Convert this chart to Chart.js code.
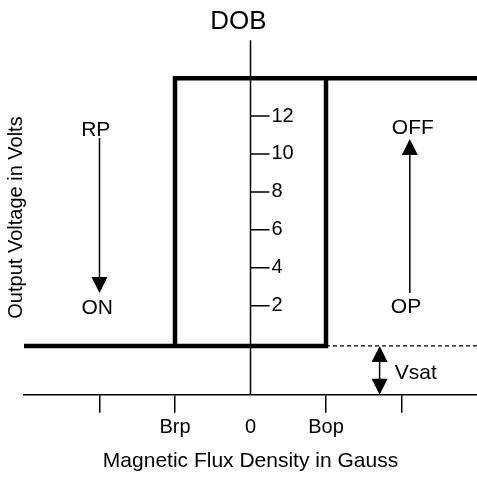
<!DOCTYPE html>
<html>
<head>
<meta charset="utf-8">
<title>DOB</title>
<script src="https://cdn.jsdelivr.net/npm/chart.js@4.4.1/dist/chart.umd.min.js"></script>
<style>
  html, body { margin: 0; padding: 0; background: #fff; }
  #wrap { width: 477px; height: 477px; }
</style>
</head>
<body>
<div id="wrap"><canvas id="chart"></canvas></div>
<script>
// flux axis (x): tick positions and their names
const fluxTicks = [-2, -1, 0, 1, 2];
const fluxLabels = ['', 'Brp', '0', 'Bop', ''];
// voltage scale drawn on the centre axis
const voltTicks = [2, 4, 6, 8, 10, 12];

// hysteresis loop, null breaks the path
const loopX = [-3, -1, -1, 3, null, 1, 1, -1];
const loopY = [-0.12, -0.12, 14, 14, null, 14, -0.12, -0.12];
// Vsat reference level
const dashX = [1, 3];
const dashY = [-0.12, -0.12];

// arrows: x position, tail, tip, double headed or not
const arrowX = [-2, 2.11, 1.71];
const arrowFrom = [10.84, 2.67, -0.12];
const arrowTo = [2.67, 10.79, -2.7];
const arrowBoth = [false, false, true];

// text notes, in data coordinates
const noteText = ['RP', 'ON', 'OFF', 'OP', 'Vsat'];
const noteX = [-2.05, -2.03, 2.15, 2.06, 1.91];
const noteY = [11.26, 1.86, 11.37, 1.94, -1.54];

const FONT = "'Liberation Sans', Arial, sans-serif";
Chart.defaults.font.family = FONT;
Chart.defaults.color = '#000';

function arrowHead(ctx, px, py, dir) {
    // dir = 1 points down, -1 points up
    ctx.beginPath();
    ctx.moveTo(px, py);
    ctx.lineTo(px - 8, py - dir * 16);
    ctx.lineTo(px + 8, py - dir * 16);
    ctx.closePath();
    ctx.fill();
}

const diagram_plugin = {
    id: 'diagramNotes',
    beforeDatasetsDraw: (chart) => {
        const {ctx} = chart;
        const {x, y} = chart.scales;
        const x0 = x.getPixelForValue(0);
        ctx.save();
        ctx.strokeStyle = '#000';
        ctx.fillStyle = '#000';
        ctx.lineWidth = 1.5;
        ctx.beginPath();
        ctx.moveTo(x0, y.getPixelForValue(y.max));
        ctx.lineTo(x0, y.getPixelForValue(y.min));
        y.ticks.forEach(t => {
            const py = y.getPixelForValue(t.value);
            ctx.moveTo(x0, py);
            ctx.lineTo(x0 + 19, py);
        });
        ctx.stroke();
        ctx.font = '20px ' + FONT;
        ctx.textAlign = 'left';
        ctx.textBaseline = 'middle';
        y.ticks.forEach(t => ctx.fillText(String(t.value), x0 + 21, y.getPixelForValue(t.value)));
        ctx.restore();
    },
    afterDatasetsDraw: (chart) => {
        const {ctx} = chart;
        const {x, y} = chart.scales;
        ctx.save();
        ctx.strokeStyle = '#000';
        ctx.fillStyle = '#000';
        ctx.lineWidth = 1.5;
        arrowX.forEach((ax, i) => {
            const px = x.getPixelForValue(ax);
            const p1 = y.getPixelForValue(arrowFrom[i]);
            const p2 = y.getPixelForValue(arrowTo[i]);
            const dir = p2 > p1 ? 1 : -1;
            ctx.beginPath();
            ctx.moveTo(px, p1 + (arrowBoth[i] ? dir * 8 : 0));
            ctx.lineTo(px, p2 - dir * 8);
            ctx.stroke();
            arrowHead(ctx, px, p2, dir);
            if (arrowBoth[i]) arrowHead(ctx, px, p1, -dir);
        });
        ctx.font = '21px ' + FONT;
        ctx.textBaseline = 'middle';
        noteText.forEach((txt, i) => {
            ctx.textAlign = txt === 'Vsat' ? 'left' : 'center';
            ctx.fillText(txt, x.getPixelForValue(noteX[i]), y.getPixelForValue(noteY[i]));
        });
        ctx.restore();
    }
};

new Chart(document.getElementById('chart'), {
    type: 'scatter',
    data: {
        datasets: [
            {
                data: loopX.map((v, i) => ({x: v, y: loopY[i]})),
                showLine: true,
                spanGaps: false,
                borderColor: '#000',
                borderWidth: 4.5,
                borderJoinStyle: 'miter',
                pointRadius: 0,
            },
            {
                data: dashX.map((v, i) => ({x: v, y: dashY[i]})),
                showLine: true,
                borderColor: '#000',
                borderWidth: 1.2,
                borderDash: [4, 3],
                pointRadius: 0,
            }
        ]
    },
    options: {
        responsive: true,
        maintainAspectRatio: false,
        animation: false,
        events: [],
        layout: {padding: 0},
        scales: {
            x: {
                type: 'linear',
                min: -3,
                max: 3,
                afterBuildTicks: scale => {
                    scale.ticks = fluxTicks.map(v => ({value: v}));
                },
                ticks: {
                    autoSkip: false,
                    maxRotation: 0,
                    padding: 3,
                    font: {size: 20},
                    callback: value => fluxLabels[fluxTicks.indexOf(value)],
                },
                grid: {
                    drawOnChartArea: false,
                    tickLength: 18,
                    lineWidth: 1.5,
                    color: ctx => ctx.tick && ctx.tick.value === 0 ? 'rgba(0,0,0,0)' : '#000',
                },
                border: {display: true, color: '#000', width: 1.5},
                title: {
                    display: true,
                    text: 'Magnetic Flux Density in Gauss',
                    font: {size: 21},
                    padding: {top: 6, bottom: 3},
                }
            },
            y: {
                min: -2.7,
                max: 16,
                afterBuildTicks: scale => {
                    scale.ticks = voltTicks.map(v => ({value: v}));
                },
                ticks: {display: false},
                grid: {display: false, drawTicks: false},
                border: {display: false},
                title: {
                    display: true,
                    text: 'Output Voltage in Volts',
                    font: {size: 20},
                    padding: {top: 4, bottom: -4},
                }
            }
        },
        plugins: {
            legend: {display: false},
            tooltip: {enabled: false},
            title: {
                display: true,
                text: 'DOB',
                font: {size: 26, weight: 'normal'},
                padding: {top: 6, bottom: 3},
            }
        }
    },
    plugins: [diagram_plugin]
});
</script>
</body>
</html>
